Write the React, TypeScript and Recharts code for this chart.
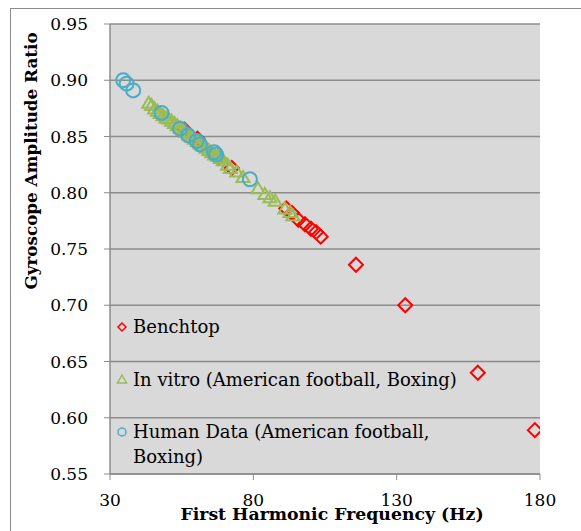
import React from 'react';
import { ScatterChart, Scatter, XAxis, YAxis, CartesianGrid, Legend } from 'recharts';

const benchtopX = [56, 60.5, 67.8, 72.5, 91.5, 93.5, 95.7, 98.0, 100.1, 101.9, 103.5, 115.8, 133.0, 158.3, 178.2];
const benchtopY = [0.856, 0.848, 0.831, 0.822, 0.786, 0.782, 0.776, 0.772, 0.768, 0.765, 0.761, 0.736, 0.700, 0.640, 0.589];

const invitroX = [43.5, 44.5, 45.5, 46.5, 47.5, 48.5, 49.5, 50.5, 51.5, 52.5, 53.5, 54.5, 55.5, 56.5, 57.5, 58.5, 59.5, 60.5, 61.5, 62.5, 63.5, 64.5, 65.5, 66.5, 67.5, 68.5, 69.5, 71.0, 72.0, 74.2, 76.4, 81.6, 84.0, 85.8, 87.6, 91.0, 92.8, 93.8];
const invitroY = [0.880, 0.878, 0.875, 0.873, 0.871, 0.869, 0.867, 0.866, 0.864, 0.862, 0.860, 0.858, 0.856, 0.854, 0.852, 0.850, 0.848, 0.846, 0.844, 0.842, 0.840, 0.838, 0.836, 0.834, 0.833, 0.831, 0.829, 0.825, 0.822, 0.819, 0.814, 0.804, 0.799, 0.796, 0.793, 0.786, 0.783, 0.780];

const humanX = [34.6, 35.8, 38.1, 48.0, 54.4, 57.3, 60.2, 61.4, 66.3, 67.0, 78.8];
const humanY = [0.900, 0.897, 0.891, 0.871, 0.857, 0.851, 0.846, 0.843, 0.836, 0.834, 0.812];

const xTicks = [30, 80, 130, 180];
const yTicks = [0.55, 0.6, 0.65, 0.7, 0.75, 0.8, 0.85, 0.9, 0.95];

const seriesNames = ['Benchtop', 'In vitro (American football, Boxing)', 'Human Data (American football, Boxing)'];

const toPoints = (xs: number[], ys: number[]) => xs.map((x, i) => ({ x, y: ys[i] }));
const benchtopData = toPoints(benchtopX, benchtopY);
const invitroData = toPoints(invitroX, invitroY);
const humanData = toPoints(humanX, humanY);

const RED = '#ff0000';
const GREEN = '#9bbb59';
const BLUE = '#4bacc6';
const GRID = '#8c8c8c';

const Diamond = (props: any) => {
  const { cx, cy } = props;
  const r = 7;
  return <path d={`M${cx},${cy - r}L${cx + r},${cy}L${cx},${cy + r}L${cx - r},${cy}Z`} fill="none" stroke={RED} strokeWidth={2} />;
};
const Triangle = (props: any) => {
  const { cx, cy } = props;
  return <path d={`M${cx},${cy - 6}L${cx + 6.5},${cy + 5}L${cx - 6.5},${cy + 5}Z`} fill="none" stroke={GREEN} strokeWidth={2} />;
};
const Circle = (props: any) => {
  const { cx, cy } = props;
  return <circle cx={cx} cy={cy} r={7} fill="none" stroke={BLUE} strokeWidth={2} />;
};

const legendMarker = (i: number) => {
  if (i === 0) return <svg width={12} height={12}><path d="M6,2L10,6L6,10L2,6Z" fill="none" stroke={RED} strokeWidth={1.5} /></svg>;
  if (i === 1) return <svg width={12} height={12}><path d="M6,2L10.5,10L1.5,10Z" fill="none" stroke={GREEN} strokeWidth={1.5} /></svg>;
  return <svg width={12} height={12}><circle cx={6} cy={6} r={4} fill="none" stroke={BLUE} strokeWidth={1.5} /></svg>;
};

const LegendContent = () => (
  <div style={{ fontFamily: 'DejaVu Serif', fontSize: 18, color: '#000', lineHeight: '25px', textAlign: 'left' }}>
    {seriesNames.map((name, i) => (
      <div key={name} style={{ display: 'flex', alignItems: 'flex-start', height: 52.5 }}>
        <div style={{ width: 12, height: 25, display: 'flex', alignItems: 'center', marginRight: 5 }}>{legendMarker(i)}</div>
        <div style={{ width: 340 }}>{name}</div>
      </div>
    ))}
  </div>
);

export default function App() {
  return (
    <div style={{ position: 'absolute', left: 0, top: 0, width: 581, height: 531, background: '#fff' }}>
      <div style={{ position: 'absolute', left: 10, top: 8, width: 571, height: 523, borderLeft: '1px solid #8c8c8c', borderTop: '1px solid #8c8c8c', boxSizing: 'border-box' }} />
      <div style={{ position: 'absolute', left: 0, top: 0 }}>
        <ScatterChart width={581} height={531} margin={{ top: 24, right: 41, bottom: 0, left: 0 }}>
          <CartesianGrid horizontal vertical={false} fill="#d9d9d9" stroke={GRID} strokeWidth={1.5} />
          <XAxis
            type="number"
            dataKey="x"
            domain={[30, 180]}
            ticks={xTicks}
            allowDataOverflow
            height={57}
            tickSize={6}
            tickMargin={14}
            axisLine={{ stroke: GRID, strokeWidth: 1.5 }}
            tickLine={{ stroke: GRID }}
            tick={{ fontFamily: 'DejaVu Serif', fontSize: 17, fill: '#000' }}
            label={{
              content: () => (
                <text x={332} y={520} textAnchor="middle" fontFamily="DejaVu Serif" fontWeight="bold" fontSize={17.3} fill="#000">
                  First Harmonic Frequency (Hz)
                </text>
              ),
            }}
          />
          <YAxis
            type="number"
            dataKey="y"
            domain={[0.55, 0.95]}
            ticks={yTicks}
            allowDataOverflow
            width={110}
            tickSize={6}
            tickMargin={16}
            tickFormatter={(v: number) => v.toFixed(2)}
            axisLine={{ stroke: GRID, strokeWidth: 1.5 }}
            tickLine={{ stroke: GRID }}
            tick={{ fontFamily: 'DejaVu Serif', fontSize: 17, fill: '#000' }}
            label={{
              content: () => (
                <text transform="translate(37,161) rotate(-90)" textAnchor="middle" fontFamily="DejaVu Serif" fontWeight="bold" fontSize={16.8} fill="#000">
                  Gyroscope Amplitude Ratio
                </text>
              ),
            }}
          />
          <Legend
            layout="horizontal"
            verticalAlign="middle"
            align="center"
            content={LegendContent}
            wrapperStyle={{ position: 'absolute', left: 116, top: 314, width: 360, bottom: 'auto', right: 'auto' }}
          />
          <Scatter name={seriesNames[0]} data={benchtopData} shape={Diamond} isAnimationActive={false} />
          <Scatter name={seriesNames[1]} data={invitroData} shape={Triangle} isAnimationActive={false} />
          <Scatter name={seriesNames[2]} data={humanData} shape={Circle} isAnimationActive={false} />
        </ScatterChart>
      </div>
    </div>
  );
}
